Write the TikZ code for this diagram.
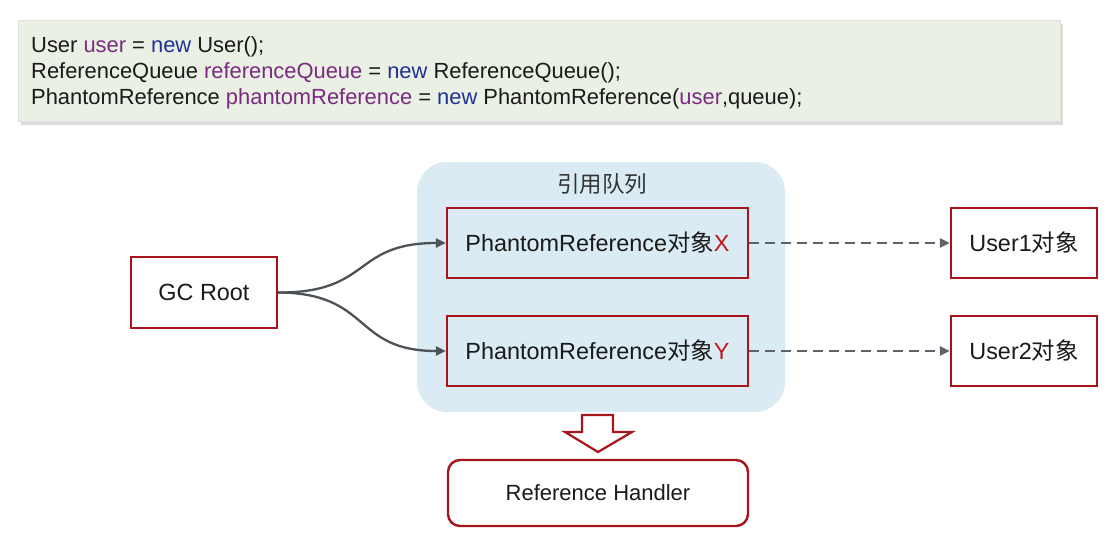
\documentclass[tikz,border=0pt]{standalone}
\usepackage{fontspec}
\setmainfont{Liberation Sans}
\newfontfamily\cjk{Noto Sans CJK SC}
\usetikzlibrary{arrows.meta}
\definecolor{boxred}{HTML}{A8141C}
\definecolor{xred}{HTML}{C0181C}
\definecolor{qblue}{HTML}{DAEBF3}
\definecolor{codebg}{HTML}{EBF0E4}
\definecolor{purp}{HTML}{7A2A80}
\definecolor{kblue}{HTML}{1E3296}
\definecolor{arrgray}{HTML}{4C5258}
\definecolor{txt}{HTML}{1A1A1A}
\tikzset{
  objbox/.style={draw=boxred, line width=2.4pt, fill=white, inner sep=0pt, text=txt,
    font=\fontsize{23.4}{28}\selectfont},
  qbox/.style={objbox, fill=none, minimum width=301pt, minimum height=70pt},
  userbox/.style={objbox, minimum width=146pt, minimum height=70pt},
  codeline/.style={anchor=base west, inner sep=0pt, text=txt, font=\fontsize{21.9}{26}\selectfont},
  curvearrow/.style={draw=arrgray, line width=2.3pt, -{Triangle[length=10pt,width=9pt]}},
  dasharrow/.style={draw=arrgray!90, line width=2.6pt, dash pattern=on 10pt off 6pt, -{Triangle[length=10pt,width=9pt]}}
}
\newcommand{\vr}[1]{\textcolor{purp}{#1}}
\newcommand{\kw}[1]{\textcolor{kblue}{#1}}
\begin{document}
\begin{tikzpicture}[x=1pt,y=-1pt]
\useasboundingbox (0,0) rectangle (1114,546);
% code box
\fill[black!30, opacity=0.45] (21,24) rectangle (1063,125);
\fill[codebg] (18,20) rectangle (1060,121);
\draw[black!12, line width=0.6pt] (18,20) rectangle (1060,121);
\node[codeline] (c1) at (31,52) {User \vr{user} = \kw{new} User();};
\node[codeline] (c2) at (31,78) {ReferenceQueue \vr{referenceQueue} = \kw{new} ReferenceQueue();};
\node[codeline] (c3) at (31,104) {PhantomReference \vr{phantomReference} = \kw{new} PhantomReference(\vr{user},queue);};
% queue
\fill[qblue, rounded corners=30pt] (417,162) rectangle (785,412);
\node[text=black!80, font=\cjk\fontsize{22.5}{27}\selectfont] (qt) at (602,184) {引用队列};
\node[qbox] (px) at (597.5,243) {PhantomReference{\cjk 对象}\textcolor{xred}{X}};
\node[qbox] (py) at (597.5,351) {PhantomReference{\cjk 对象}\textcolor{xred}{Y}};
% GC root
\node[objbox, minimum width=146pt, minimum height=71pt] (gc) at (204,292.5) {GC Root};
% users
\node[userbox] (u1) at (1024,243) {User1{\cjk 对象}};
\node[userbox] (u2) at (1024,351) {User2{\cjk 对象}};
% handler
\node[objbox, rounded corners=12pt, minimum width=300pt, minimum height=66pt,
  font=\fontsize{22}{26}\selectfont] (rh) at (598,493) {Reference Handler};
% curves
\draw[curvearrow] (gc.east) .. controls (372,293) and (352,243) .. (px.west);
\draw[curvearrow] (gc.east) .. controls (372,293) and (352,351) .. (py.west);
% dashed
\draw[dasharrow] (px.east) -- (u1.west);
\draw[dasharrow] (py.east) -- (u2.west);
% hollow arrow
\coordinate (ha) at (598,452);
\draw[boxred, line width=2.2pt, fill=white, line join=miter]
  (582,415) -- (613,415) -- (613,432) -- (632,432) -- (ha) -- (565,432) -- (582,432) -- cycle;
\end{tikzpicture}
\end{document}
